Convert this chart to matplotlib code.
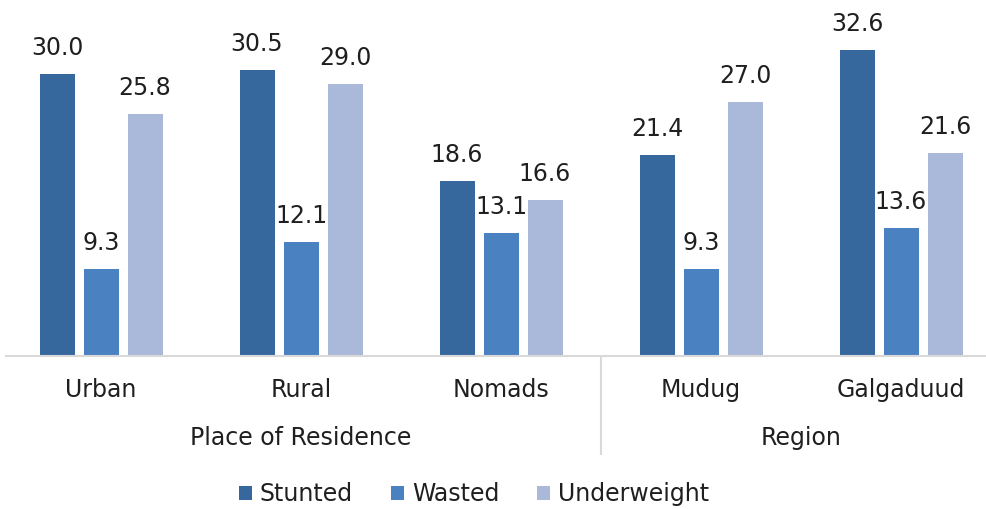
import numpy as np
import matplotlib.pyplot as plt

plt.rcParams['font.family'] = ['DejaVu Sans']

categories = ["Urban", "Rural", "Nomads", "Mudug", "Galgaduud"]
groups = ["Place of Residence", "Region"]
stunted = [30.0, 30.5, 18.6, 21.4, 32.6]
wasted = [9.3, 12.1, 13.1, 9.3, 13.6]
underweight = [25.8, 29.0, 16.6, 27.0, 21.6]

series = [("Stunted", stunted, "#36689E"),
          ("Wasted", wasted, "#4A81C1"),
          ("Underweight", underweight, "#AAB9DA")]

fig = plt.figure(figsize=(9.86, 5.09), dpi=100)
ax = fig.add_axes([6/986, 153/509, 980/986, 356/509])

x = np.arange(len(categories))
w = 0.175
step = 0.22
fs = 17
txt = "#1f1f1f"
for i, (name, vals, col) in enumerate(series):
    pos = x + (i - 1) * step
    bars = ax.bar(pos, vals, width=w, color=col, label=name)
    for b, v in zip(bars, vals):
        ax.annotate(f"{v:.1f}", (b.get_x() + b.get_width() / 2, v),
                    xytext=(0, 10), textcoords="offset points",
                    ha="center", va="bottom", fontsize=fs, color=txt)

ax.set_xlim(-0.475, 4.425)
ax.set_ylim(0, 37.9)
for s in ["top", "right", "left"]:
    ax.spines[s].set_visible(False)
ax.spines["bottom"].set_color("#d9d9d9")
ax.spines["bottom"].set_linewidth(1.5)
ax.set_yticks([])
ax.set_xticks(x)
ax.set_xticklabels(categories, fontsize=fs, color=txt)
ax.tick_params(axis="x", length=0, pad=16)

# group labels under the category names
ax.text(1, -0.23, groups[0], transform=ax.get_xaxis_transform(),
        ha="center", va="center", fontsize=fs, color=txt)
ax.text(3.5, -0.23, groups[1], transform=ax.get_xaxis_transform(),
        ha="center", va="center", fontsize=fs, color=txt)
ax.plot([2.5, 2.5], [0, -0.275], transform=ax.get_xaxis_transform(),
        color="#d9d9d9", lw=1.5, clip_on=False)

fig.legend(loc="center", bbox_to_anchor=(474/986, 1 - 494/509), ncol=3,
           frameon=False, fontsize=fs, handlelength=0.55, handleheight=0.55,
           handletextpad=0.35, columnspacing=1.6, labelcolor=txt)

fig.savefig("out.png", dpi=100)
